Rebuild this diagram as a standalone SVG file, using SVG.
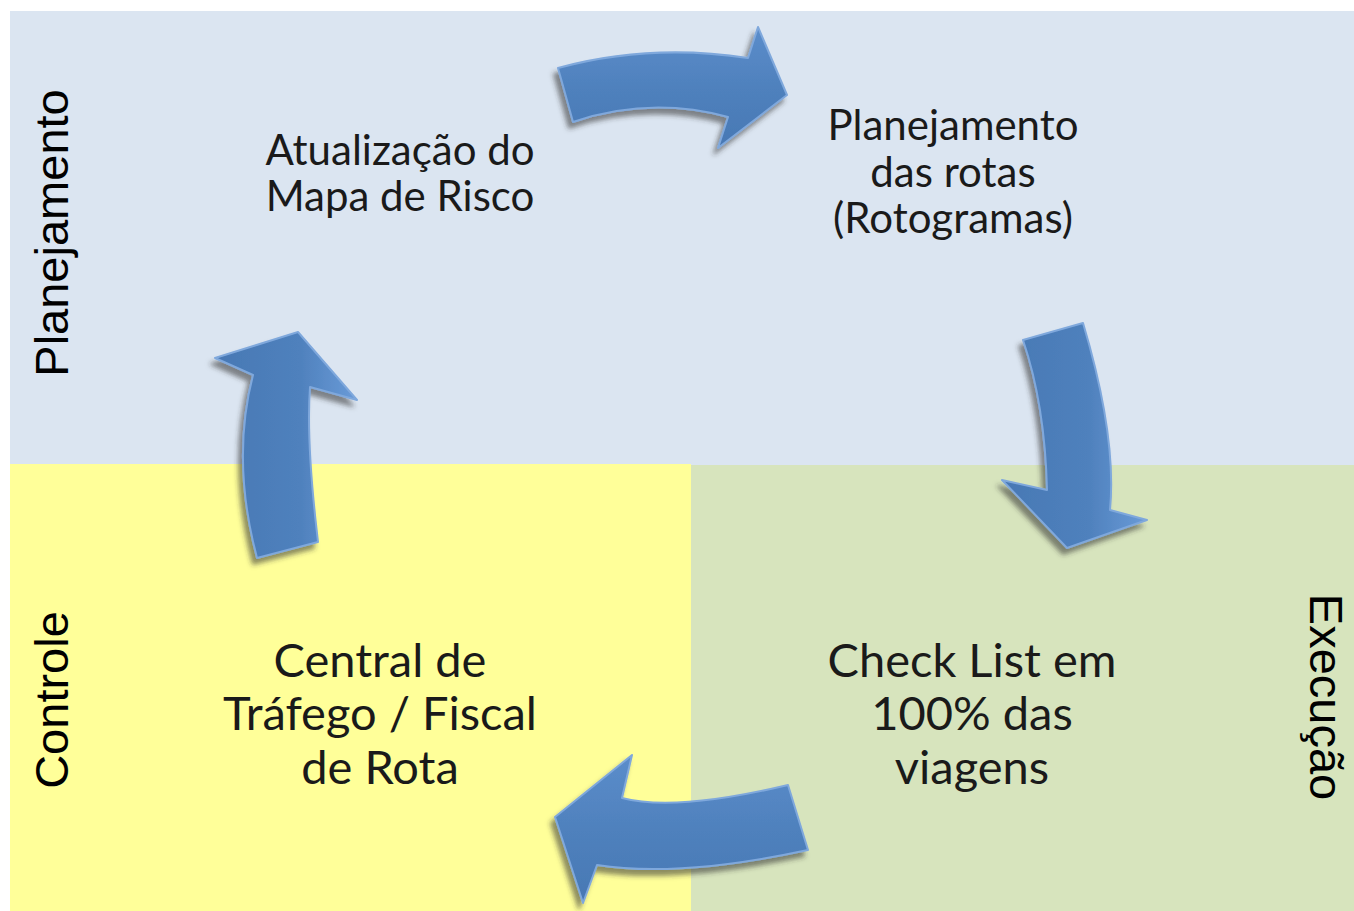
<svg xmlns="http://www.w3.org/2000/svg" width="1354" height="911" viewBox="0 0 1354 911">
<defs>
<linearGradient id="gH" x1="0" y1="0" x2="0" y2="1">
<stop offset="0" stop-color="#5B8DCB"/>
<stop offset="0.5" stop-color="#4F81BD"/>
<stop offset="1" stop-color="#4878B4"/>
</linearGradient>
<linearGradient id="gV" x1="0" y1="0" x2="1" y2="0">
<stop offset="0" stop-color="#4878B4"/>
<stop offset="0.6" stop-color="#4F81BD"/>
<stop offset="1" stop-color="#6A9BD8"/>
</linearGradient>
<filter id="sh" x="-20%" y="-20%" width="140%" height="140%">
<feDropShadow dx="-4" dy="6" stdDeviation="2.5" flood-color="#333" flood-opacity="0.55"/>
</filter>
<style>
.arr{stroke:#7FA8DC;stroke-width:2;stroke-linejoin:round;filter:url(#sh)}
.t{font-family:Lato,"Open Sans",sans-serif;fill:#1a1a1a;text-anchor:middle}
.s{font-size:42px}
.b{font-size:47px}
.side{font-family:"Liberation Sans",Arial,sans-serif;font-size:47px;fill:#000;text-anchor:middle}
</style>
</defs>
<g id="background">
<rect x="10" y="11" width="1344" height="454" fill="#DBE5F1"/>
<rect x="10" y="464" width="681" height="447" fill="#FFFF99"/>
<rect x="691" y="465" width="663" height="446" fill="#D7E4BD"/>
</g>
<g id="labels">
<text class="side" transform="translate(68,233) rotate(-90)">Planejamento</text>
<text class="side" transform="translate(68,700) rotate(-90)">Controle</text>
<text class="side" transform="translate(1310,697) rotate(90)">Execução</text>
</g>
<g id="connectors">
<path class="arr" fill="url(#gH)" d="M558,68 Q650,43 748,58 L758,27 L787,95 L718,148 L728,117 Q650,96 573,122 Z"/>
<path class="arr" fill="url(#gV)" d="M1023,340 L1083,323 Q1117,437 1110,510 L1147,520 L1067,548 L1002,480 L1047,490 Q1045,405 1023,340 Z"/>
<path class="arr" fill="url(#gH)" d="M788,785 Q675,812 622,798 L632,755 L555,817 L583,903 L597,865 Q678,878 808,850 Z"/>
<path class="arr" fill="url(#gV)" d="M257,558 L318,542 Q306,441 310,387 L357,400 L298,332 L215,358 L253,375 Q231,460 257,558 Z"/>
</g>
<g id="node-mapa">
<text class="t s" x="400" y="165">Atualização do</text>
<text class="t s" x="400" y="211">Mapa de Risco</text>
</g>
<g id="node-rotas">
<text class="t s" x="953" y="140">Planejamento</text>
<text class="t s" x="953" y="187">das rotas</text>
<text class="t s" x="953" y="233">(Rotogramas)</text>
</g>
<g id="node-checklist">
<text class="t b" x="972" y="677">Check List em</text>
<text class="t b" x="972" y="730">100% das</text>
<text class="t b" x="972" y="784">viagens</text>
</g>
<g id="node-central">
<text class="t b" x="380" y="677">Central de</text>
<text class="t b" x="380" y="730">Tráfego / Fiscal</text>
<text class="t b" x="380" y="784">de Rota</text>
</g>
</svg>
